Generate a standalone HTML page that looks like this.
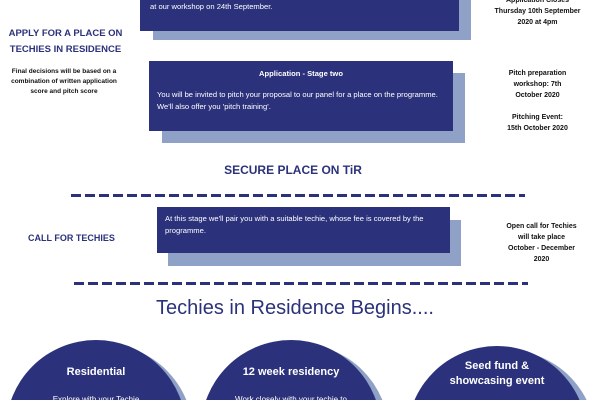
<!DOCTYPE html>
<html style="width:600px;height:400px;overflow:hidden"><head><meta charset="utf-8"><style>
body{margin:0;width:600px;height:400px;overflow:hidden;background:#fff;position:relative;font-family:"Liberation Sans",sans-serif}
.a{position:absolute}
.d{background:#2b327b}
.s{background:#8fa1c6}
.w{color:#fff;font-size:7.6px;line-height:12px}
.h{color:#2b327b;font-weight:bold}
.r{color:#111;font-size:7px;font-weight:bold;text-align:center;line-height:11px}
.dash{height:3px;background:repeating-linear-gradient(90deg,#2b327b 0 10px,transparent 10px 14px)}
.c{border-radius:50%;width:180px;height:180px}
</style></head><body>
<div class="a s" style="left:153px;top:-10px;width:318px;height:50px"></div>
<div class="a d" style="left:140px;top:-20px;width:319px;height:51px"></div>
<div class="a w" style="left:150px;top:1px">at our workshop on 24th September.</div>
<div class="a r" style="left:480px;top:-5px;width:115px">Application Closes<br>Thursday 10th September<br>2020 at 4pm</div>
<div class="a h" style="left:8px;top:26px;font-size:9.5px;line-height:16px;width:115px;text-align:center">APPLY FOR A PLACE ON<br>TECHIES IN RESIDENCE</div>
<div class="a r" style="left:8px;top:67px;width:112px;font-size:6.5px;line-height:9.8px">Final decisions will be based on a combination of written application score and pitch score</div>
<div class="a s" style="left:162px;top:73px;width:303px;height:70px"></div>
<div class="a d" style="left:149px;top:61px;width:304px;height:70px"></div>
<div class="a w" style="left:149px;top:68px;width:304px;text-align:center;font-weight:bold">Application - Stage two</div>
<div class="a w" style="left:157px;top:89px;width:290px">You will be invited to pitch your proposal to our panel for a place on the programme. We'll also offer you 'pitch training'.</div>
<div class="a r" style="left:480px;top:68px;width:115px">Pitch preparation<br>workshop: 7th<br>October 2020<br><br>Pitching Event:<br>15th October 2020</div>
<div class="a h" style="left:193px;top:163px;width:200px;text-align:center;font-size:12px">SECURE PLACE ON TiR</div>
<div class="a dash" style="left:71px;top:194px;width:454px"></div>
<div class="a s" style="left:168px;top:220px;width:293px;height:46px"></div>
<div class="a d" style="left:157px;top:207px;width:293px;height:46px"></div>
<div class="a w" style="left:165px;top:213px;width:280px">At this stage we'll pair you with a suitable techie, whose fee is covered by the programme.</div>
<div class="a h" style="left:28px;top:233px;font-size:9px">CALL FOR TECHIES</div>
<div class="a r" style="left:484px;top:221px;width:115px">Open call for Techies<br>will take place<br>October - December<br>2020</div>
<div class="a dash" style="left:74px;top:282px;width:454px"></div>
<div class="a" style="left:95px;top:297px;width:400px;text-align:center;color:#2b327b;font-size:20px">Techies in Residence Begins....</div>
<div class="a c s" style="left:13px;top:344px"></div>
<div class="a c d" style="left:6px;top:340px"></div>
<div class="a c s" style="left:209px;top:344px"></div>
<div class="a c d" style="left:201px;top:340px"></div>
<div class="a c s" style="left:416px;top:350px"></div>
<div class="a c d" style="left:407px;top:346px"></div>
<div class="a" style="left:6px;top:366px;width:180px;text-align:center;color:#fff;font-size:11px;font-weight:bold">Residential</div>
<div class="a" style="left:6px;top:395px;width:180px;text-align:center;color:#fff;font-size:8px">Explore with your Techie</div>
<div class="a" style="left:201px;top:366px;width:180px;text-align:center;color:#fff;font-size:11px;font-weight:bold">12 week residency</div>
<div class="a" style="left:201px;top:395px;width:180px;text-align:center;color:#fff;font-size:8px">Work closely with your techie to</div>
<div class="a" style="left:407px;top:359px;width:180px;text-align:center;color:#fff;font-size:11px;font-weight:bold;line-height:15px">Seed fund &amp;<br>showcasing event</div>
</body></html>
